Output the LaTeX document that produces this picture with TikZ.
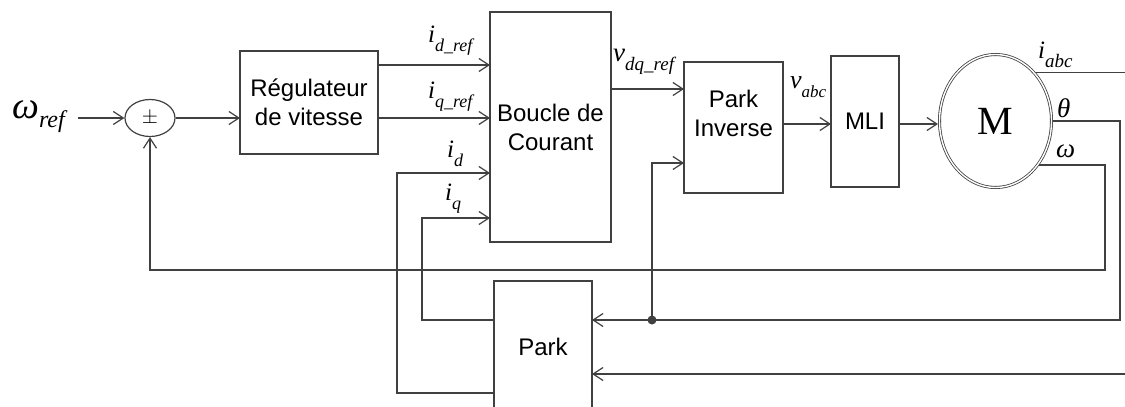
\documentclass[tikz,border=0pt]{standalone}
\usepackage{fontspec}
\setmainfont{Liberation Serif}
\setsansfont{Liberation Sans}
\usetikzlibrary{shapes.geometric, positioning, arrows.meta, calc}
\definecolor{linegray}{RGB}{64,64,64}
\tikzset{
  block/.style={rectangle, draw=linegray, line width=1.2pt, inner sep=0pt, outer sep=0pt, align=center, font=\sffamily\fontsize{24}{29}\selectfont},
  conn/.style={draw=linegray, line width=1.2pt},
  sig/.style={conn, -{Straight Barb[length=10pt,width=13pt]}},
  lbl/.style={anchor=base west, inner sep=0pt}
}
\newcommand{\signame}[4]{{\fontsize{#3}{#3}\selectfont\itshape #1}\raisebox{-9pt}{\fontsize{#4}{#4}\selectfont\itshape #2}}

\begin{document}
\begin{tikzpicture}[x=1pt, y=-1pt]

    \useasboundingbox (0,0) rectangle (1125,407);
    \clip (0,0) rectangle (1125,407);

    % 1. Blocs
    \node[ellipse, draw=linegray, line width=1.2pt, minimum width=50pt, minimum height=37pt, inner sep=0pt, font=\fontsize{22}{22}\selectfont] (sum) at (150,118) {$\pm$};
    \node[block, minimum width=138pt, minimum height=103pt] (reg) at (309,102.5) {Régulateur\\de vitesse};
    \node[block, minimum width=121pt, minimum height=230pt] (boucle) at (550.5,127) {Boucle de\\Courant};
    \node[block, minimum width=99pt, minimum height=131pt] (pinv) at (733.5,127.5) {};
    \node[align=center, font=\sffamily\fontsize{24}{29}\selectfont] (pinvtext) at ([yshift=14pt]pinv.center) {Park\\Inverse};
    \node[block, minimum width=68pt, minimum height=131pt] (mli) at (865,121.5) {MLI};
    \node[ellipse, draw=linegray, line width=0.8pt, double, double distance=1.4pt, outer sep=1.5pt, minimum width=112pt, minimum height=133pt, font=\fontsize{40}{40}\selectfont] (mot) at (995.5,121) {M};
    \node[block, minimum width=98pt, minimum height=132pt] (park) at (543,347) {Park};

    % 2. Etiquettes des signaux
    \node[lbl] (lwref) at (12,118) {\signame{ω}{ref}{38}{24}};
    \node[lbl] (lidref) at (428,42) {\signame{i}{d\_ref}{25}{18}};
    \node[lbl] (liqref) at (428,98) {\signame{i}{q\_ref}{25}{18}};
    \node[lbl] (lid) at (447,157) {\signame{i}{d}{25}{18}};
    \node[lbl] (liq) at (445,200) {\signame{i}{q}{25}{18}};
    \node[lbl] (lvdq) at (613,61) {\signame{v}{dq\_ref}{27}{19}};
    \node[lbl] (lvabc) at (790,88) {\signame{v}{abc}{26}{17}};
    \node[lbl] (liabc) at (1038,58) {\signame{i}{abc}{25}{19}};
    \node[lbl, font=\fontsize{27}{27}\selectfont\itshape] (ltheta) at (1057,117) {θ};
    \node[lbl, font=\fontsize{27}{27}\selectfont\itshape] (lomega) at (1056,157) {ω};

    % 3. Chaine directe
    \coordinate (win) at (78,118);
    \draw[sig] (win) -- (sum.west);
    \draw[sig] (sum.east) -- (sum.east -| reg.west);
    \draw[sig] (reg.east |- 0,65) -- (boucle.west |- 0,65);
    \draw[sig] (reg.east |- 0,118) -- (boucle.west |- 0,118);
    \draw[sig] (boucle.east |- 0,89) -- (pinv.west |- 0,89);
    \draw[sig] (pinv.east |- 0,124) -- (mli.west |- 0,124);
    \draw[sig] (mli.east |- 0,124) -- (mot.west |- 0,124);

    % 4. Sorties du moteur et retours
    \coordinate (edge) at (1125,0);
    \coordinate (jct) at (652,320);
    \draw[conn] (mot.50) -- (mot.50 -| edge);
    \draw[sig] (mot.east) -| (1120,320) -- (park.east |- 0,320);
    \draw[sig] (jct) |- (pinv.west |- 0,163);
    \fill[linegray] (jct) circle (4.5pt);
    \draw[sig] (edge |- 0,374) -- (park.east |- 0,374);
    \draw[sig] (mot.315) -| (1105,270) -| (sum.south);
    \draw[sig] (park.west |- 0,320) -| (422,218) -- (boucle.west |- 0,218);
    \draw[sig] (park.west |- 0,393) -| (397,173) -- (boucle.west |- 0,173);

\end{tikzpicture}
\end{document}
